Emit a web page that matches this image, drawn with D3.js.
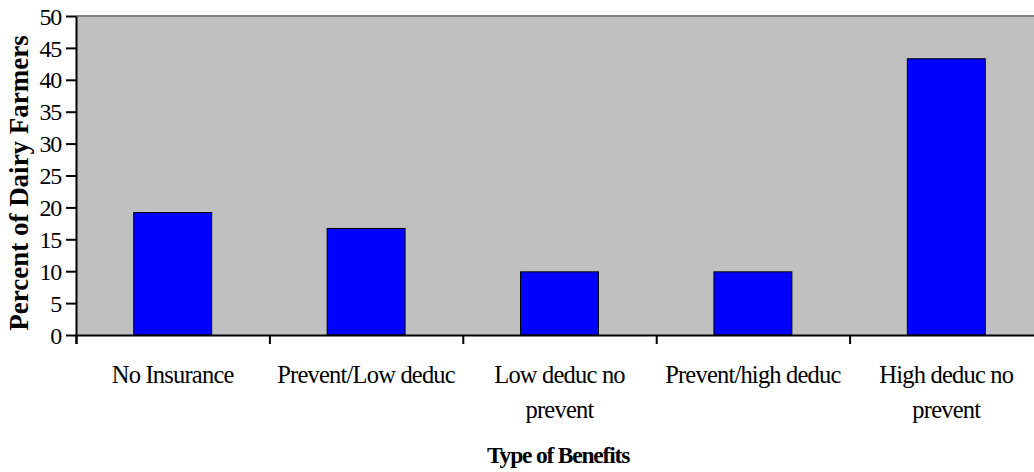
<!DOCTYPE html>
<html><head><meta charset="utf-8">
<script src="https://cdn.jsdelivr.net/npm/d3@7"></script>
<style>body{margin:0;background:#fff}svg{display:block}text{font-family:"Liberation Serif","Times New Roman",serif}</style>
</head><body>
<script>
const categories = [["No Insurance"], ["Prevent/Low deduc"], ["Low deduc no", "prevent"], ["Prevent/high deduc"], ["High deduc no", "prevent"]];
const values = [19.2, 16.7, 9.9, 9.9, 43.3];
const yTicks = [0, 5, 10, 15, 20, 25, 30, 35, 40, 45, 50];
const yTitle = "Percent of Dairy Farmers";
const xTitle = "Type of Benefits";

(function () {
const W = 1034, H = 472;
const pLeft = 76, pTop = 16, pBottom = 335, pRight = pLeft + 5 * 193.4;
const svg = d3.select("body").append("svg").attr("width", W).attr("height", H);

const x = d3.scaleBand().domain(d3.range(categories.length)).range([pLeft, pRight]).paddingInner(0.597).paddingOuter(0.2985);
const y = d3.scaleLinear().domain([0, 50]).range([pBottom, pTop]);

svg.append("rect").attr("x", pLeft).attr("y", pTop).attr("width", pRight - pLeft).attr("height", pBottom - pTop).attr("fill", "#C0C0C0");
svg.append("line").attr("x1", pLeft).attr("x2", pRight).attr("y1", pTop).attr("y2", pTop).attr("stroke", "#808080").attr("stroke-width", 2);

svg.selectAll("rect.bar").data(values).join("rect").attr("class", "bar")
  .attr("x", (d, i) => x(i)).attr("width", x.bandwidth())
  .attr("y", d => y(d)).attr("height", d => pBottom - y(d))
  .attr("fill", "#0000FF").attr("stroke", "#000").attr("stroke-width", 1);

const ya = svg.append("g").attr("transform", `translate(${pLeft},0)`)
  .call(d3.axisLeft(y).tickValues(yTicks).tickSize(10).tickPadding(5).tickSizeOuter(0));
ya.select(".domain").attr("stroke", "#000").attr("stroke-width", 2);
ya.selectAll(".tick line").attr("stroke", "#000").attr("stroke-width", 2);
ya.selectAll(".tick text").attr("font-size", 24).attr("fill", "#000").attr("letter-spacing", -1.2).attr("dy", "0.34em")
  .style("font-family", '"Liberation Serif", serif');

const xb = d3.scaleLinear().domain([0, 5]).range([pLeft, pRight]);
const xa = svg.append("g").attr("transform", `translate(0,${pBottom})`)
  .call(d3.axisBottom(xb).tickValues([0,1,2,3,4,5]).tickSize(9).tickFormat(""));
xa.select(".domain").attr("stroke", "#000").attr("stroke-width", 2);
xa.selectAll(".tick line").attr("stroke", "#000").attr("stroke-width", 2);

const lab = svg.append("g").selectAll("text").data(categories).join("text")
  .attr("x", (d, i) => x(i) + x.bandwidth() / 2).attr("y", 383)
  .attr("text-anchor", "middle").attr("font-size", 24.5).attr("letter-spacing", -0.8).attr("fill", "#000");
lab.selectAll("tspan").data(d => d).join("tspan")
  .attr("x", function() { return this.parentNode.getAttribute("x"); })
  .attr("dy", (d, i) => i === 0 ? 0 : 35).text(d => d);

svg.append("text").attr("x", 558).attr("y", 463).attr("text-anchor", "middle")
  .attr("font-size", 23.5).attr("font-weight", "bold").attr("letter-spacing", -1.2).text(xTitle);

svg.append("text").attr("transform", "translate(28,183) rotate(-90)").attr("text-anchor", "middle")
  .attr("font-size", 27).attr("font-weight", "bold").text(yTitle);
})();
</script>
</body></html>
